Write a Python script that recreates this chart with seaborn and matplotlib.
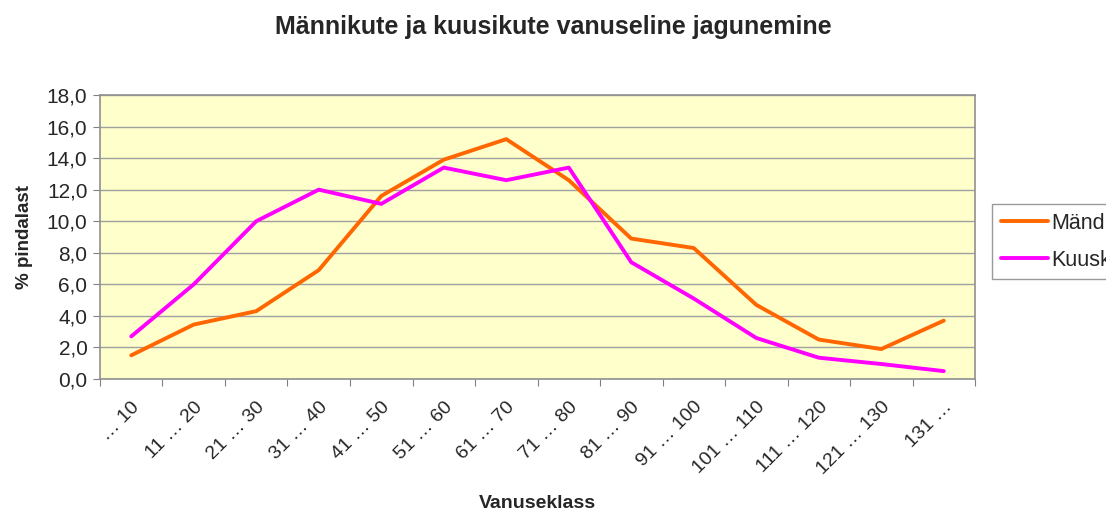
import numpy as np
import pandas as pd
import matplotlib
matplotlib.use('Agg')
import matplotlib.pyplot as plt
import seaborn as sns
from matplotlib.ticker import FuncFormatter, FixedLocator

# data
classes = ['… 10', '11 … 20', '21 … 30', '31 … 40', '41 … 50', '51 … 60', '61 … 70',
           '71 … 80', '81 … 90', '91 … 100', '101 … 110', '111 … 120', '121 … 130', '131 …']
mand = [1.5, 3.45, 4.3, 6.9, 11.6, 13.9, 15.2, 12.6, 8.9, 8.3, 4.7, 2.5, 1.9, 3.7]
kuusk = [2.7, 6.0, 10.0, 12.0, 11.1, 13.4, 12.6, 13.4, 7.4, 5.1, 2.6, 1.35, 0.95, 0.5]
series_names = ['Mänd', 'Kuusk']
series_colors = ['#FF6600', '#FF00FF']

df = pd.DataFrame({'x': list(range(len(classes))) * 2,
                   'value': mand + kuusk,
                   'liik': [series_names[0]] * len(classes) + [series_names[1]] * len(classes)})

sns.set_style('white')
plt.rcParams['font.family'] = ['Liberation Sans', 'DejaVu Sans']

fig = plt.figure(figsize=(11.06, 5.11), dpi=100)
ax = fig.add_axes([0.0904, 0.2583, 0.7912, 0.5558])
ax.set_facecolor('#FFFFCC')

sns.lineplot(data=df, x='x', y='value', hue='liik', palette=series_colors,
             linewidth=2.8, ax=ax, legend=False, zorder=3)

ax.set_xlim(-0.5, len(classes) - 0.5)
ax.set_ylim(0, 18)
ax.set_yticks(np.arange(0, 18.1, 2))
ax.yaxis.set_major_formatter(FuncFormatter(lambda v, p: f'{v:.1f}'.replace('.', ',')))
ax.grid(axis='y', color='#A0A0A0', linewidth=1.0, zorder=1)
ax.set_axisbelow(True)

# ticks on category borders, labels on category centres
ax.xaxis.set_major_locator(FixedLocator(np.arange(-0.5, len(classes), 1)))
ax.xaxis.set_major_formatter(FuncFormatter(lambda v, p: ''))
ax.xaxis.set_minor_locator(FixedLocator(np.arange(len(classes))))
ax.set_xticklabels(classes, minor=True, rotation=45, ha='right', rotation_mode='anchor')
ax.tick_params(axis='x', which='minor', length=0, labelsize=14, pad=14)
ax.tick_params(axis='x', which='major', length=5, color='#808080', direction='out')
ax.tick_params(axis='y', length=5, color='#808080', direction='out', labelsize=15, pad=4)
ax.tick_params(bottom=True, left=True)
ax.xaxis.set_ticks_position('bottom')

for s in ax.spines.values():
    s.set_color('#909090')
    s.set_linewidth(1.2)

ax.set_xlabel('Vanuseklass', fontsize=14, fontweight='bold')
ax.set_ylabel('% pindalast', fontsize=13.5, fontweight='bold', labelpad=10)
ax.xaxis.set_label_coords(0.5, -0.41)

fig.suptitle('Männikute ja kuusikute vanuseline jagunemine', x=0.5, y=0.97,
             fontsize=18, fontweight='bold')

handles = [plt.Line2D([], [], color=c, linewidth=2.8) for c in series_colors]
leg = fig.legend(handles, series_names, loc='upper left', bbox_to_anchor=(0.897, 0.601),
                 borderaxespad=0, fontsize=15.5, frameon=True, fancybox=False,
                 edgecolor='#808080', handlelength=2.2, handletextpad=0.15,
                 borderpad=0.4, labelspacing=0.75)
leg.get_frame().set_linewidth(1.0)

fig.savefig('out.png', dpi=100)
